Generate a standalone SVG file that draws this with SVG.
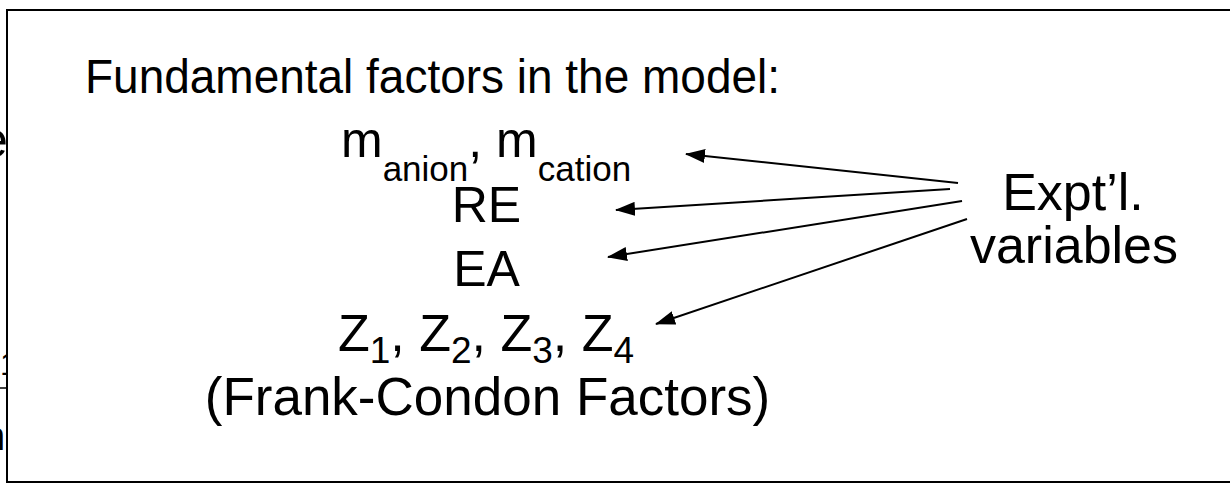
<svg xmlns="http://www.w3.org/2000/svg" width="1230" height="484" viewBox="0 0 1230 484">
  <style>
    text { font-family: "Liberation Sans", Arial, sans-serif; fill: #000; }
    .big { font-size: 50px; }
    .conn { stroke: #000; stroke-width: 2; fill: none; marker-end: url(#arrow); }
  </style>
  <defs>
    <marker id="arrow" viewBox="0 0 20 14" refX="19" refY="7" markerWidth="20" markerHeight="14" markerUnits="userSpaceOnUse" orient="auto">
      <path d="M0,0 L20,7 L0,14 z" fill="#000"/>
    </marker>
  </defs>
  <rect width="1230" height="484" fill="#fff"/>

  <!-- background fragments partly hidden behind the panel -->
  <g id="background">
    <text x="-20" y="157" font-size="50">e</text>
    <text x="0" y="375" font-size="32">1</text>
    <line x1="0" y1="388" x2="8" y2="388" stroke="#000" stroke-width="1.5"/>
    <text x="-17" y="450" font-size="40">n</text>
  </g>

  <g id="panel">
    <rect x="7" y="10" width="1250" height="472" fill="#fff" stroke="#000" stroke-width="2"/>
  </g>

  <g id="title">
    <text x="85" y="93" font-size="49" textLength="695" lengthAdjust="spacingAndGlyphs">Fundamental factors in the model:</text>
  </g>

  <g id="node-masses">
    <text x="341" y="157" font-size="50">m<tspan font-size="35" dy="24">anion</tspan><tspan dy="-24">, m</tspan><tspan font-size="35" dy="24">cation</tspan></text>
  </g>
  <g id="node-re">
    <text class="big" x="486.5" y="222" text-anchor="middle">RE</text>
  </g>
  <g id="node-ea">
    <text class="big" x="486.5" y="286" text-anchor="middle">EA</text>
  </g>
  <g id="node-z">
    <text x="338" y="351" font-size="52">Z<tspan font-size="37" dy="12">1</tspan><tspan dy="-12">, Z</tspan><tspan font-size="37" dy="12">2</tspan><tspan dy="-12">, Z</tspan><tspan font-size="37" dy="12">3</tspan><tspan dy="-12">, Z</tspan><tspan font-size="37" dy="12">4</tspan></text>
  </g>
  <g id="node-fc">
    <text x="487.5" y="415" font-size="53" text-anchor="middle">(Frank-Condon Factors)</text>
  </g>

  <g id="node-expt">
    <text x="1073" y="210" font-size="52" text-anchor="middle">Expt’l.</text>
    <text x="1074" y="263" font-size="52" text-anchor="middle">variables</text>
  </g>

  <g id="connectors">
    <line class="conn" x1="958" y1="183" x2="686" y2="154"/>
    <line class="conn" x1="950" y1="189" x2="616" y2="210"/>
    <line class="conn" x1="962" y1="201" x2="608" y2="257"/>
    <line class="conn" x1="967" y1="219" x2="656" y2="324"/>
  </g>
</svg>
